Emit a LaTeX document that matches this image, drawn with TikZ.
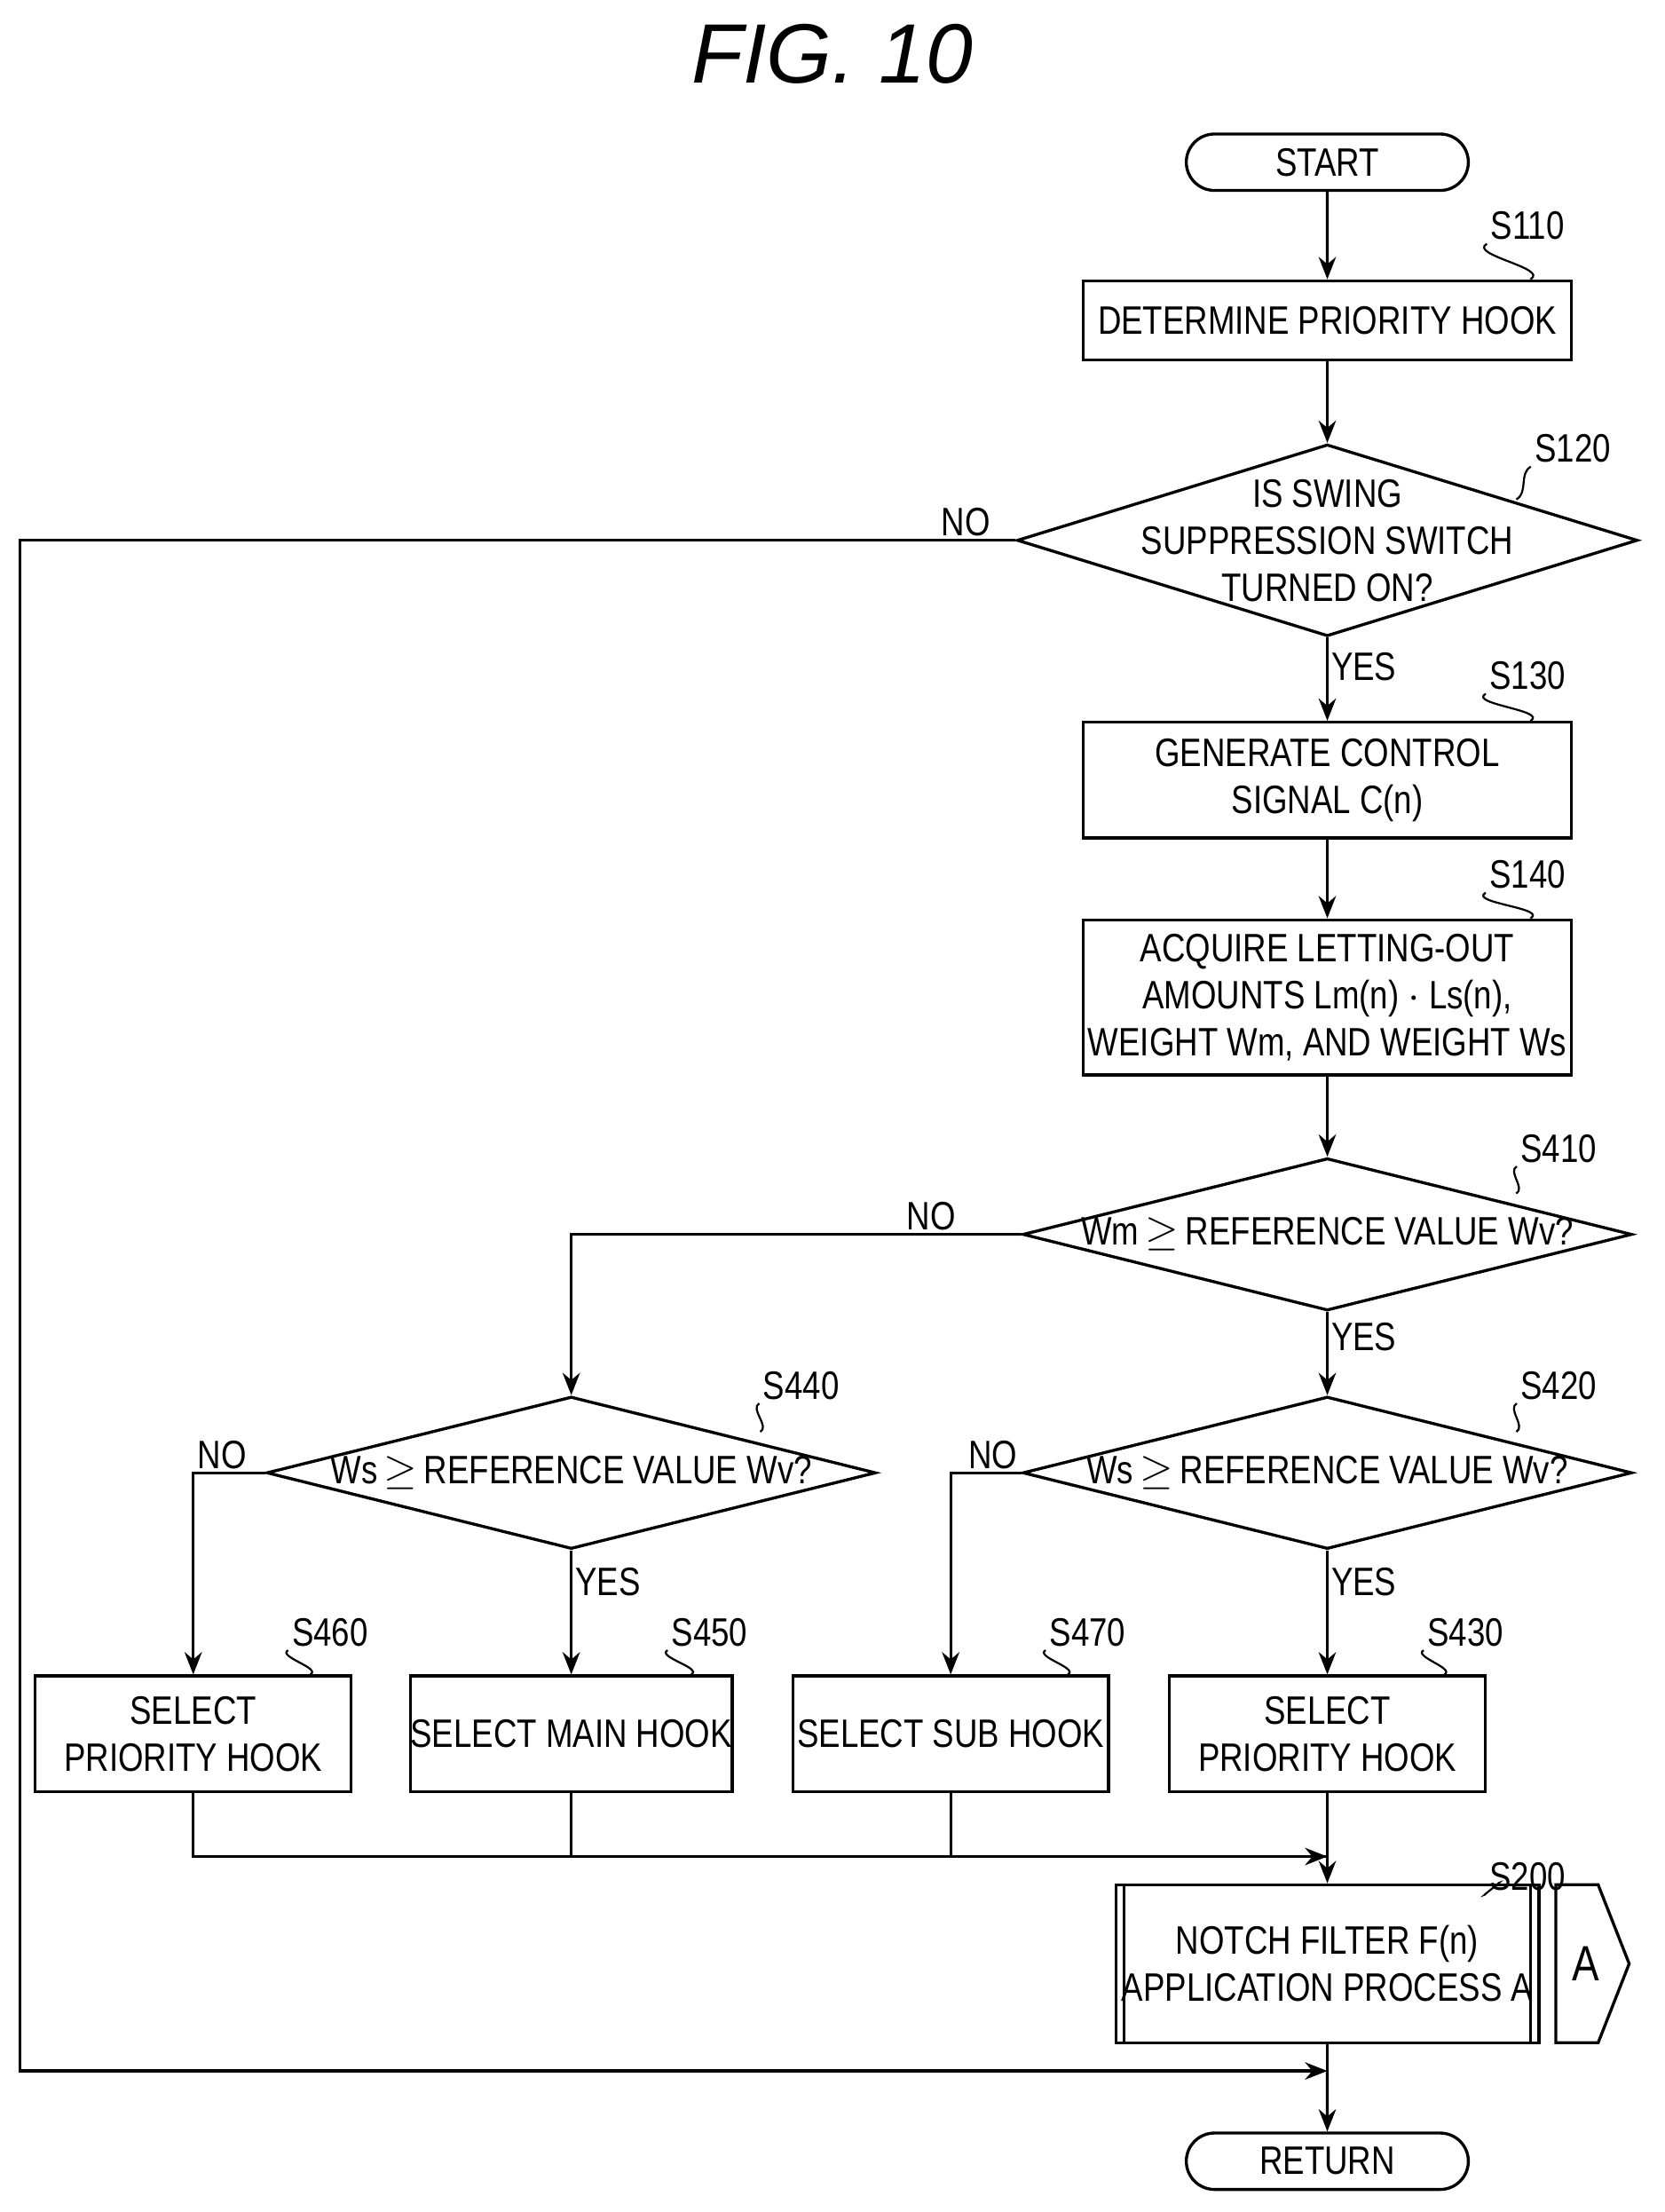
\documentclass[tikz,border=0pt]{standalone}
\usepackage{fontspec}
\setsansfont{Liberation Sans}[FakeStretch=0.82]
\newfontfamily\titlefont{Liberation Sans}
\usetikzlibrary{shapes.geometric,shapes.misc,arrows.meta}
\tikzstyle{block} = [draw=black, line width=1.2pt, rectangle, align=center, minimum width=6.92cm, minimum height=1.12cm, inner sep=0pt]
\tikzstyle{small block} = [block, minimum width=4.48cm, minimum height=1.64cm]
\tikzstyle{terminal} = [draw=black, line width=1.2pt, rounded rectangle, minimum width=4cm, minimum height=0.8cm, inner sep=0pt]
\tikzstyle{decision} = [draw=black, line width=1.2pt, diamond, minimum width=8.64cm, minimum height=2.16cm, inner sep=0pt]
\tikzstyle{steplabel} = [inner sep=1pt]
\tikzstyle{branch} = [inner sep=1pt]

\begin{document}
\begin{tikzpicture}[x=0.02cm, y=-0.02cm, >={Stealth[length=9pt,width=7pt]}, line width=1.2pt,
  font=\sffamily\fontsize{16}{19}\selectfont]
	\useasboundingbox (0,0) rectangle (1180,1568);
	\node[font=\titlefont\itshape\fontsize{34}{40}\selectfont] (title) at (590,38) {FIG. 10};

	% MAIN COLUMN
	\node[terminal] (start) at (941,115) {START};
	\node[block] (s110) at (941,227) {DETERMINE PRIORITY HOOK};
	\node[decision, minimum width=8.8cm, minimum height=2.72cm] (s120) at (941,383) {};
	\node[align=center] at (s120) {IS SWING\\SUPPRESSION SWITCH\\TURNED ON?};
	\node[block, minimum height=1.64cm] (s130) at (941,553) {GENERATE CONTROL\\SIGNAL C(n)};
	\node[block, minimum height=2.2cm] (s140) at (941,707) {ACQUIRE LETTING-OUT\\AMOUNTS Lm(n) $\cdot$ Ls(n),\\WEIGHT Wm, AND WEIGHT Ws};
	\node[decision] (s410) at (941,875) {};
	\node at (s410) {Wm\,$\geq$\,REFERENCE VALUE Wv?};

	% BRANCHES
	\node[decision] (s420) at (941,1044) {};
	\node at (s420) {Ws\,$\geq$\,REFERENCE VALUE Wv?};
	\node[decision] (s440) at (405,1044) {};
	\node at (s440) {Ws\,$\geq$\,REFERENCE VALUE Wv?};
	\node[small block] (s460) at (137,1229) {SELECT\\PRIORITY HOOK};
	\node[small block] (s450) at (405,1229) {SELECT MAIN HOOK};
	\node[small block] (s470) at (674,1229) {SELECT SUB HOOK};
	\node[small block] (s430) at (941,1229) {SELECT\\PRIORITY HOOK};

	% SUBROUTINE
	\node[block, minimum width=6cm, minimum height=2.24cm] (s200) at (941,1392) {NOTCH FILTER F(n)\\APPLICATION PROCESS A};
	\draw ([xshift=0.14cm]s200.north west) -- ([xshift=0.14cm]s200.south west);
	\draw ([xshift=-0.14cm]s200.north east) -- ([xshift=-0.14cm]s200.south east);
	\draw (1103,1336) -- (1133,1336) -- (1155,1392) -- (1133,1448) -- (1103,1448) -- cycle;
	\node[font=\sffamily\fontsize{20}{24}\selectfont] (conn) at (1124,1392) {A};
	\node[terminal] (return) at (941,1532) {RETURN};

	% STEP LABELS
	\node[steplabel] (l110) at (1083,160) {S110};
	\node[steplabel] (l120) at (1115,318) {S120};
	\node[steplabel] (l130) at (1083,479) {S130};
	\node[steplabel] (l140) at (1083,620) {S140};
	\node[steplabel] (l410) at (1105,814) {S410};
	\node[steplabel] (l420) at (1105,982) {S420};
	\node[steplabel] (l440) at (568,982) {S440};
	\node[steplabel] (l460) at (234,1157) {S460};
	\node[steplabel] (l450) at (503,1157) {S450};
	\node[steplabel] (l470) at (771,1157) {S470};
	\node[steplabel] (l430) at (1039,1157) {S430};
	\node[steplabel] (l200) at (1083,1330) {S200};
	\foreach \l/\s in {l110/s110.north east, l130/s130.north east, l140/s140.north east, l460/s460.north east, l450/s450.north east, l470/s470.north east, l430/s430.north east, l200/s200.north east}
		\draw[line width=0.8pt] (\l.south west) to[out=-150, in=30] ([xshift=-0.6cm]\s);
	\draw[line width=0.8pt] (l120.south west) to[out=-150, in=30] (1075,354);
	\draw[line width=0.8pt] (l410.south west) to[out=-150, in=30] (1075,846);
	\draw[line width=0.8pt] (l420.south west) to[out=-150, in=30] (1075,1015);
	\draw[line width=0.8pt] (l440.south west) to[out=-150, in=30] (539,1015);

	% CONNECTORS
	\coordinate (join) at (941,1316);
	\coordinate (merge) at (941,1468);
	\draw[->] (start) -- (s110);
	\draw[->] (s110) -- (s120);
	\draw[->] (s120) -- node[branch, right, pos=0.35] {YES} (s130);
	\draw[->] (s130) -- (s140);
	\draw[->] (s140) -- (s410);
	\draw[->] (s410) -- node[branch, right, pos=0.3] {YES} (s420);
	\draw[->] (s420) -- node[branch, right, pos=0.25] {YES} (s430);
	\draw[->] (s440) -- node[branch, right, pos=0.25] {YES} (s450);
	\draw[->] (s410.west) -| node[branch, above, pos=0.1] {NO} (s440.north);
	\draw[->] (s420.west) -| node[branch, above, pos=0.2] {NO} (s470.north);
	\draw[->] (s440.west) -| node[branch, above, pos=0.3] {NO} (s460.north);
	\draw (s450.south) |- (join);
	\draw (s470.south) |- (join);
	\draw[->] (s430.south) -- (s200.north);
	\draw[->] (s460.south) |- (join);
	\draw (s200) -- (merge);
	\draw[->] (s120.west) -- node[branch, above, pos=0.05] {NO} (14,383) |- (merge);
	\draw[->] (merge) -- (return);
\end{tikzpicture}
\end{document}
